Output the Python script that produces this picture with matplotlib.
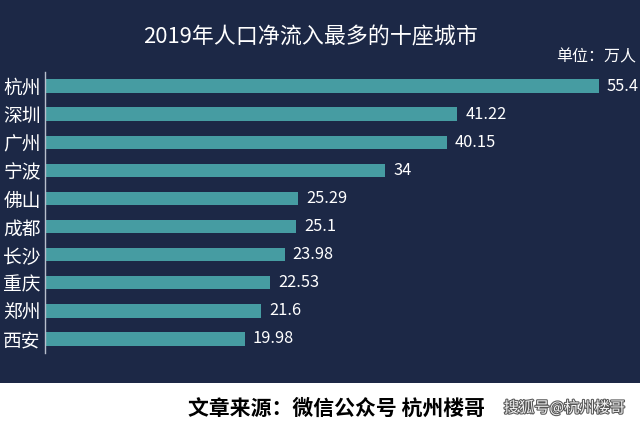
import matplotlib
matplotlib.use('Agg')
from matplotlib import pyplot as plt, patches, patheffects

plt.rcParams['font.family'] = ['Noto Sans CJK SC', 'DejaVu Sans']

cities = ['杭州', '深圳', '广州', '宁波', '佛山', '成都', '长沙', '重庆', '郑州', '西安']
inflow = [55.4, 41.22, 40.15, 34, 25.29, 25.1, 23.98, 22.53, 21.6, 19.98]
value_labels = ['55.4', '41.22', '40.15', '34', '25.29', '25.1', '23.98', '22.53', '21.6', '19.98']

bg = '#1c2846'
bar_color = '#469ca2'


def main():
    fig = plt.figure(figsize=(6.4, 4.26), dpi=100)
    fig.patch.set_facecolor(bg)

    # white strip at the bottom
    fig.patches.append(patches.Rectangle((0, 0), 1, 43 / 426, transform=fig.transFigure,
                                         facecolor='white', edgecolor='none', zorder=0))

    ax = fig.add_axes([45 / 640, 1 - 353 / 426, 595 / 640, 281 / 426])
    ax.set_facecolor(bg)

    y = list(range(len(cities)))
    ax.barh(y, inflow, height=0.48, color=bar_color, edgecolor='none')
    for yi, v, lab in zip(y, inflow, value_labels):
        ax.text(v + 0.8, yi, lab, color='white', fontsize=11.8, va='center', ha='left')

    ax.set_xlim(0, 59.5)
    ax.set_ylim(len(cities) - 0.5, -0.5)
    ax.set_yticks(y)
    ax.set_yticklabels(cities, color='white', fontsize=13.5)
    ax.tick_params(axis='y', length=0, pad=3)
    ax.set_xticks([])
    for s in ['top', 'right', 'bottom']:
        ax.spines[s].set_visible(False)
    ax.spines['left'].set_color('#b8bfcc')
    ax.spines['left'].set_linewidth(1)

    fig.text(0.485, 1 - 37 / 426, '2019年人口净流入最多的十座城市', color='white',
             fontsize=15.8, ha='center', va='center')
    fig.text(636 / 640, 1 - 57 / 426, '单位：万人', color='white', fontsize=11.5,
             ha='right', va='center')

    fig.text(485 / 640, 1 - 408 / 426, '文章来源：微信公众号 杭州楼哥', color='black',
             fontsize=15, fontweight='bold', ha='right', va='center')
    fig.text(625 / 640, 1 - 408 / 426, '搜狐号@杭州楼哥', color='#f2f2f2',
             fontsize=11, ha='right', va='center',
             path_effects=[patheffects.withStroke(linewidth=1.5, foreground='#555555')])

    fig.savefig('out.png', dpi=100, facecolor=fig.get_facecolor())


if __name__ == '__main__':
    main()
